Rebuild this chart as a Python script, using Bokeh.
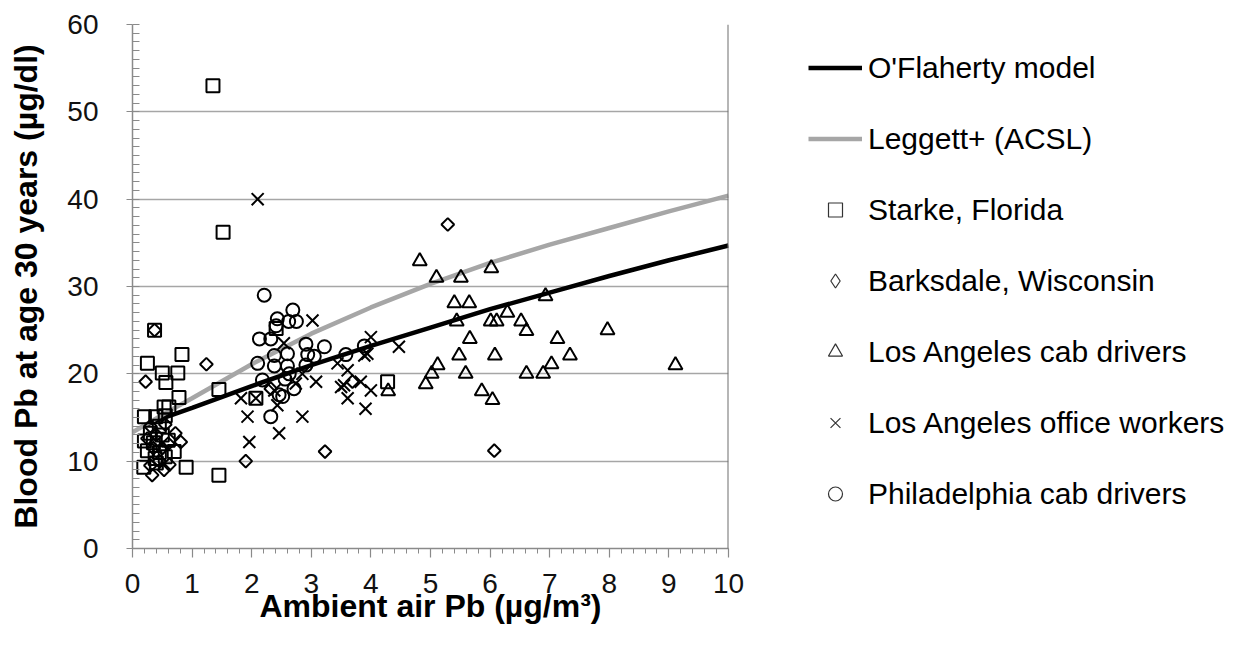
import numpy as np
from bokeh.plotting import figure
from bokeh.models import (Range1d, SingleIntervalTicker, FixedTicker, Legend,
                          LegendItem, Span, ColumnDataSource)
from bokeh.embed import file_html
from bokeh.resources import INLINE

# ---- model curves ----
oflaherty_x = [0.2, 0.5, 1, 2, 3, 4, 5, 6, 7, 8, 9, 10]
oflaherty_y = [14.1, 14.9, 16.1, 18.6, 21.0, 23.2, 25.3, 27.4, 29.3, 31.2, 33.0, 34.7]
leggett_x = [0, 0.5, 1, 2, 3, 4, 5, 6, 7, 8, 9, 10]
leggett_y = [13.3, 15.3, 17.2, 21.1, 24.6, 27.6, 30.3, 32.7, 34.8, 36.7, 38.6, 40.4]

# ---- observations ----
starke_x = [1.35, 1.52, 0.37, 0.83, 0.25, 0.50, 0.76, 0.56, 1.45, 0.78, 0.53, 0.61,
            0.20, 0.39, 0.55, 0.20, 0.30, 0.45, 0.50, 0.35, 0.60, 0.25, 0.45, 0.70,
            0.38, 0.55, 0.19, 0.40, 0.90, 1.45, 2.41, 2.07, 4.28]
starke_y = [53.0, 36.2, 25.0, 22.2, 21.2, 20.1, 20.1, 19.0, 18.2, 17.3, 16.2, 16.2,
            15.1, 15.1, 15.2, 12.3, 13.2, 14.0, 13.0, 12.1, 12.4, 11.2, 11.0, 11.1,
            10.3, 10.5, 9.3, 9.8, 9.3, 8.4, 25.2, 17.2, 19.1]

barksdale_x = [5.29, 6.07, 3.23, 1.90, 1.24, 0.22, 0.37, 0.81, 0.72, 0.53, 0.33,
               0.30, 0.45, 0.35, 0.50, 0.25, 0.40, 0.60, 0.55, 0.30, 2.32, 3.69, 0.62]
barksdale_y = [37.1, 11.2, 11.1, 10.0, 21.1, 19.1, 25.0, 12.2, 13.2, 9.0, 8.4,
               9.5, 10.0, 11.5, 11.5, 12.6, 13.0, 12.0, 14.2, 14.0, 18.3, 19.1, 9.6]

la_cab_x = [4.82, 5.10, 5.51, 6.02, 5.40, 5.65, 5.44, 6.01, 6.11, 6.29, 6.93, 6.52,
            6.61, 5.66, 7.13, 5.48, 6.08, 7.34, 5.12, 5.02, 4.92, 5.59, 6.61, 6.89,
            7.03, 5.86, 6.04, 7.97, 9.11, 4.29]
la_cab_y = [32.9, 31.0, 31.0, 32.1, 28.1, 28.1, 26.0, 26.0, 26.0, 27.0, 28.9, 26.0,
            24.9, 24.0, 24.0, 22.1, 22.1, 22.1, 21.0, 20.0, 18.8, 20.0, 20.0, 20.0,
            21.1, 18.0, 17.0, 25.0, 21.0, 18.0]

la_office_x = [2.10, 3.02, 4.00, 4.47, 2.54, 3.89, 3.44, 3.61, 2.85, 3.55, 3.83, 4.00,
               3.61, 3.91, 3.08, 2.74, 2.38, 1.82, 2.43, 1.93, 2.85, 2.46, 1.96, 3.50,
               2.07, 3.94]
la_office_y = [40.0, 26.1, 24.2, 23.1, 23.5, 22.1, 21.2, 20.4, 20.0, 18.7, 19.1, 18.1,
               17.2, 16.0, 19.1, 18.9, 18.1, 17.2, 16.4, 15.1, 15.1, 13.2, 12.2, 18.5,
               17.2, 22.3]

phil_x = [2.21, 2.69, 2.43, 2.62, 2.75, 2.41, 2.13, 2.32, 2.91, 3.22, 3.89, 2.38,
          2.60, 2.94, 3.05, 3.58, 2.10, 2.38, 2.60, 2.91, 2.18, 2.56, 2.71, 2.52,
          2.46, 2.32, 2.63]
phil_y = [29.0, 27.3, 26.3, 26.0, 26.0, 25.5, 24.0, 24.0, 23.4, 23.1, 23.2, 22.1,
          22.3, 22.2, 22.0, 22.2, 21.2, 20.9, 20.9, 21.0, 19.3, 19.4, 18.3, 17.4,
          17.6, 15.1, 20.0]

FONT = "Liberation Sans"
AXIS_GRAY = "#8a8a8a"

p = figure(frame_width=596, frame_height=524, x_range=Range1d(0, 10), y_range=Range1d(0, 60),
           output_backend="svg", toolbar_location=None,
           min_border_left=132, min_border_right=0, min_border_top=24,
           min_border_bottom=89)
p.outline_line_color = None
p.background_fill_color = "white"
p.border_fill_color = "white"

# axes
p.xaxis.ticker = SingleIntervalTicker(interval=1, num_minor_ticks=5)
p.yaxis.ticker = SingleIntervalTicker(interval=10, num_minor_ticks=10)
for ax in (p.xaxis, p.yaxis):
    ax.axis_line_color = AXIS_GRAY
    ax.axis_line_width = 1.5
    ax.major_tick_line_color = AXIS_GRAY
    ax.minor_tick_line_color = AXIS_GRAY
    ax.major_tick_line_width = 1.2
    ax.minor_tick_line_width = 1
    ax.major_label_text_font = FONT
    ax.major_label_text_font_size = "28px"
    ax.major_label_text_color = "#111111"
    ax.axis_label_text_font = FONT
    ax.axis_label_text_font_style = "bold"
    ax.axis_label_text_color = "#000000"

p.xaxis.axis_label = "Ambient air Pb (µg/m³)"
p.yaxis.axis_label = "Blood Pb at age 30 years (µg/dl)"
p.xaxis.axis_label_text_font_size = "32px"
p.yaxis.axis_label_text_font_size = "32px"
p.xaxis.major_tick_out = 9
p.xaxis.major_tick_in = 0
p.xaxis.minor_tick_out = 5
p.xaxis.minor_tick_in = 0
p.xaxis.major_label_standoff = 16
p.xaxis.axis_label_standoff = -8
p.yaxis.major_tick_out = 6
p.yaxis.major_tick_in = 0
p.yaxis.minor_tick_out = 0
p.yaxis.minor_tick_in = 7
p.yaxis.major_label_standoff = 28
p.yaxis.axis_label_standoff = 20

p.xgrid.grid_line_color = None
p.ygrid.ticker = FixedTicker(ticks=[10, 20, 30, 40, 50])
p.ygrid.grid_line_color = "#a6a6a6"
p.ygrid.grid_line_width = 1.5

# right border of plot area
p.add_layout(Span(location=10, dimension="height", line_color="#6e6e6e", line_width=2))

# model lines
r_ofl = p.line(oflaherty_x, oflaherty_y, line_color="black", line_width=4.5)
r_leg = p.line(leggett_x, leggett_y, line_color="#a6a6a6", line_width=4.5)

mk = dict(fill_alpha=0, line_color="black", line_width=2)
p.scatter(starke_x, starke_y, marker="square", size=13, **mk)
p.scatter(barksdale_x, barksdale_y, marker="square", angle=np.pi / 4, size=9, **mk)
p.scatter(la_cab_x, la_cab_y, marker="triangle", size=14, **mk)
p.scatter(la_office_x, la_office_y, marker="x", size=17, **mk)
p.scatter(phil_x, phil_y, marker="circle", size=13, **mk)

# small legend markers (no visible points)
nan_src = ColumnDataSource(dict(x=[np.nan], y=[np.nan]))
lk = dict(fill_alpha=0, line_color="#333333", line_width=1.2)
l_sq = p.scatter("x", "y", source=nan_src, marker="square", size=9, **lk)
l_di = p.scatter("x", "y", source=nan_src, marker="diamond", size=12, **lk)
l_tr = p.scatter("x", "y", source=nan_src, marker="triangle", size=10, **lk)
l_x = p.scatter("x", "y", source=nan_src, marker="x", size=13, **lk)
l_ci = p.scatter("x", "y", source=nan_src, marker="circle", size=9, **lk)

legend = Legend(items=[
    LegendItem(label="O'Flaherty model", renderers=[r_ofl]),
    LegendItem(label="Leggett+ (ACSL)", renderers=[r_leg]),
    LegendItem(label="Starke, Florida", renderers=[l_sq]),
    LegendItem(label="Barksdale, Wisconsin", renderers=[l_di]),
    LegendItem(label="Los Angeles cab drivers", renderers=[l_tr]),
    LegendItem(label="Los Angeles office workers", renderers=[l_x]),
    LegendItem(label="Philadelphia cab drivers", renderers=[l_ci]),
], location=(80, 37))
legend.label_text_font = FONT
legend.label_text_font_size = "30px"
legend.label_text_color = "#000000"
legend.glyph_width = 54
legend.glyph_height = 35
legend.label_height = 35
legend.label_standoff = 6
legend.spacing = 36
legend.padding = 0
legend.margin = 0
legend.border_line_color = None
legend.background_fill_alpha = 0
p.add_layout(legend, "right")

open("out.html", "w").write(file_html(p, INLINE))
